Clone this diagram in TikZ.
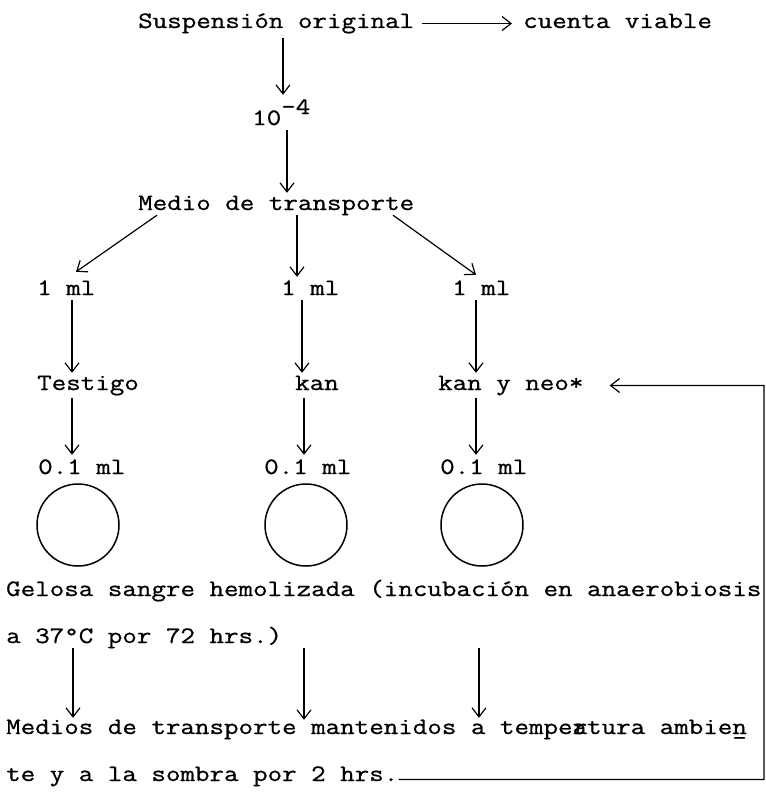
\documentclass[tikz,border=0pt]{standalone}
\usepackage{fontspec}
\setmonofont{Latin Modern Mono}[FakeStretch=1.2,FakeBold=0.8]
\usetikzlibrary{arrows.meta,calc}
\begin{document}
\begin{tikzpicture}[x=1bp,y=-1bp,
  txt/.style={inner sep=0pt, anchor=base west, text height=14bp, text depth=5bp,
              font=\ttfamily\fontsize{23.5bp}{28bp}\selectfont},
  arr/.style={line width=1.2bp, -{Straight Barb[length=9bp,width=14bp]}},
  plate/.style={circle, draw, line width=1.5bp, minimum size=82bp, inner sep=0pt}]
\useasboundingbox (0,0) rectangle (766,793);

% text lines of the scheme
\node[txt] (sus) at (138,28) {Suspensión original};
\node[txt] (cue) at (523,28) {cuenta viable};
\node[txt] (ten) at (252,125) {10\raisebox{11bp}{-4}};
\node[txt] (med) at (138,210) {Medio de transporte};
\node[txt] (l1) at (37,295) {1 ml};
\node[txt] (l2) at (281,295) {1 ml};
\node[txt] (l3) at (452,295) {1 ml};
\node[txt] (tes) at (37,390) {Testigo};
\node[txt] (kan) at (295,390) {kan};
\node[txt] (kyn) at (438,390) {kan y neo*};
\node[txt] (d1) at (38,474) {0.1 ml};
\node[txt] (d2) at (264,474) {0.1 ml};
\node[txt] (d3) at (440,474) {0.1 ml};

% plates
\node[plate] (p1) at (78,525) {};
\node[plate] (p2) at (306,525) {};
\node[plate] (p3) at (482,525) {};

\node[txt] (gel) at (6,596) {Gelosa sangre hemolizada (incubación en anaerobiosis};
\node[txt] (inc) at (6,643) {a 37°C por 72 hrs.)};
\node[txt] (mds) at (6,734) {Medios de transporte mantenidos a tempe\rlap{r}atura ambie\rlap{\char"5F}n};
\node[txt] (tmp) at (6,781) {te y a la sombra por 2 hrs.};

% column positions of the vertical connectors
\coordinate (cA) at (283,0);
\coordinate (cB) at (287,0);
\coordinate (cM) at (297,0);
\coordinate (c1) at (72,0);
\coordinate (c2) at (302,0);
\coordinate (c2b) at (304,0);
\coordinate (c3) at (476,0);
\coordinate (b1) at (73,0);
\coordinate (b2) at (304,0);
\coordinate (b3) at (479,0);
\coordinate (rc) at (764,385.5);

% connectors
\draw[arr, shorten <=8bp, shorten >=11bp] (sus.east) -- (cue.west);
\draw[arr, shorten <=5bp, shorten >=16bp] (sus.south -| cA) -- (ten.north -| cA);
\draw[arr, shorten >=3bp] (ten.south -| cB) -- (med.north -| cB);

\draw[arr] ($(med.south west)+(19,0)$) -- ($(l1.north west)+(39,-9)$);
\draw[arr, shorten >=4bp] (med.south -| cM) -- (l2.north -| cM);
\draw[arr] ($(med.south west)+(255,0)$) -- ($(l3.north west)+(24,-6)$);

\draw[arr, shorten >=3bp] (l1.south -| c1) -- (tes.north -| c1);
\draw[arr, shorten >=3bp] (l2.south -| c2) -- (kan.north -| c2);
\draw[arr, shorten >=3bp] (l3.south -| c3) -- (kyn.north -| c3);

\draw[arr, shorten <=3bp, shorten >=5bp] (tes.south -| c1) -- (d1.north -| c1);
\draw[arr, shorten <=3bp, shorten >=5bp] (kan.south -| c2b) -- (d2.north -| c2b);
\draw[arr, shorten <=3bp, shorten >=5bp] (kyn.south -| c3) -- (d3.north -| c3);

\draw[arr, shorten >=2bp] (inc.south -| b1) -- (mds.north -| b1);
\draw[arr] (inc.south -| b2) -- (mds.north -| b2);
\draw[arr, shorten >=2bp] (inc.south -| b3) -- (mds.north -| b3);

% return line to the kan y neo* tube
\draw[arr, shorten >=26bp] ([yshift=-3bp]tmp.east) -| (rc) -- (kyn.east);
\end{tikzpicture}
\end{document}
